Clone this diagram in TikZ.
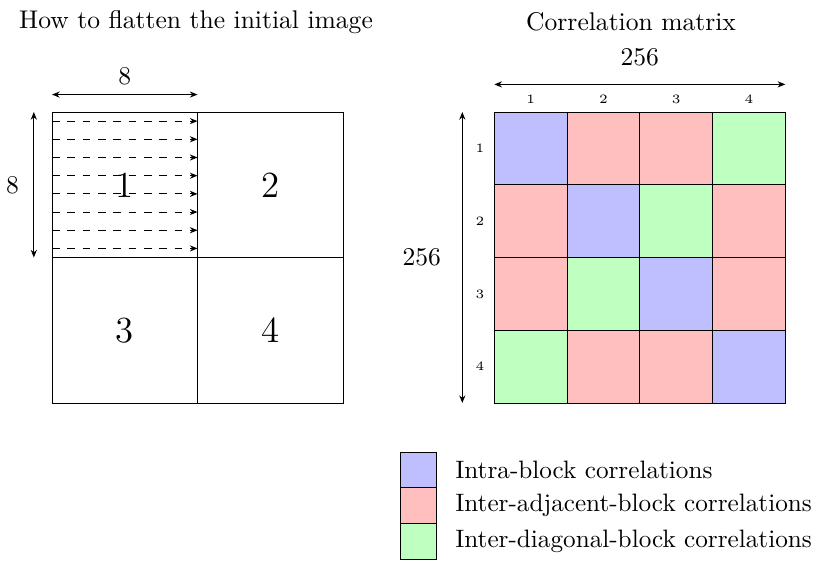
\documentclass[tikz,border=0pt]{standalone}
\usepackage{tikz}
\usetikzlibrary{positioning,arrows.meta,calc}

\begin{document}
\begin{tikzpicture}[
  >={Stealth[length=3pt,width=2.4pt]},
  block/.style={draw, minimum size=2cm, inner sep=0pt, outer sep=0pt, font=\Large},
  cell/.style={draw, minimum size=1cm, inner sep=0pt, outer sep=0pt},
  intra/.style={cell, fill=blue!25},
  adj/.style={cell, fill=red!25},
  diag/.style={cell, fill=green!25},
  key/.style={draw, minimum width=0.5cm, minimum height=0.49cm, inner sep=0pt, outer sep=0pt},
  idx/.style={font=\tiny, inner sep=0pt},
  scan/.style={->, dashed},
  dim/.style={<->},
  node distance=0pt,
]
\useasboundingbox (-0.715,-2.158) rectangle (10.529,5.54);

% image split into blocks
\node at (1.98,5.24) (ttl1) {How to flatten the initial image};
\node[block] at (1,3) (b1) {1};
\node[block, right=of b1] (b2) {2};
\node[block, below=of b1] (b3) {3};
\node[block, right=of b3] (b4) {4};

\draw[scan] ($(b1.north west)+(0,-0.125)$) -- ($(b1.north east)+(0,-0.125)$);
\draw[scan] ($(b1.north west)+(0,-0.375)$) -- ($(b1.north east)+(0,-0.375)$);
\draw[scan] ($(b1.north west)+(0,-0.625)$) -- ($(b1.north east)+(0,-0.625)$);
\draw[scan] ($(b1.north west)+(0,-0.875)$) -- ($(b1.north east)+(0,-0.875)$);
\draw[scan] ($(b1.north west)+(0,-1.125)$) -- ($(b1.north east)+(0,-1.125)$);
\draw[scan] ($(b1.north west)+(0,-1.375)$) -- ($(b1.north east)+(0,-1.375)$);
\draw[scan] ($(b1.north west)+(0,-1.625)$) -- ($(b1.north east)+(0,-1.625)$);
\draw[scan] ($(b1.north west)+(0,-1.875)$) -- ($(b1.north east)+(0,-1.875)$);

\draw[dim] ([yshift=2.4mm]b1.north west) -- node[above=0pt] (w8) {8} ([yshift=2.4mm]b1.north east);
\draw[dim] ([xshift=-2.5mm]b1.north west) -- node[left=0.8mm] (h8) {8} ([xshift=-2.5mm]b1.south west);

% correlation matrix
\node at (7.96,5.24) (ttl2) {Correlation matrix};
\node[intra] at (6.58,3.5) (m11) {};
\node[adj, right=of m11] (m12) {};
\node[adj, right=of m12] (m13) {};
\node[diag, right=of m13] (m14) {};
\node[adj, below=of m11] (m21) {};
\node[intra, right=of m21] (m22) {};
\node[diag, right=of m22] (m23) {};
\node[adj, right=of m23] (m24) {};
\node[adj, below=of m21] (m31) {};
\node[diag, right=of m31] (m32) {};
\node[intra, right=of m32] (m33) {};
\node[adj, right=of m33] (m34) {};
\node[diag, below=of m31] (m41) {};
\node[adj, right=of m41] (m42) {};
\node[adj, right=of m42] (m43) {};
\node[intra, right=of m43] (m44) {};

\node[idx, above=1.1mm of m11] (c1) {1};
\node[idx, above=1.1mm of m12] (c2) {2};
\node[idx, above=1.1mm of m13] (c3) {3};
\node[idx, above=1.1mm of m14] (c4) {4};
\node[idx, left=1.3mm of m11] (r1) {1};
\node[idx, left=1.3mm of m21] (r2) {2};
\node[idx, left=1.3mm of m31] (r3) {3};
\node[idx, left=1.3mm of m41] (r4) {4};

\draw[dim] ([yshift=3.8mm]m11.north west) -- node[above=1.3mm] (w256) {256} ([yshift=3.8mm]m14.north east);
\draw[dim] ([xshift=-4.4mm]m11.north west) -- node[left=1.7mm] (h256) {256} ([xshift=-4.4mm]m41.south west);

% legend
\node[key, fill=blue!25] at (5.04,-0.92) (l1) {};
\node[key, fill=red!25, below=of l1] (l2) {};
\node[key, fill=green!25, below=of l2] (l3) {};
\node[right=1.3mm of l1, font=\fontsize{9.85pt}{12pt}\selectfont] (t1) {Intra-block correlations};
\node[right=1.3mm of l2, font=\fontsize{9.85pt}{12pt}\selectfont] (t2) {Inter-adjacent-block correlations};
\node[right=1.3mm of l3, font=\fontsize{9.85pt}{12pt}\selectfont] (t3) {Inter-diagonal-block correlations};
\end{tikzpicture}
\end{document}
